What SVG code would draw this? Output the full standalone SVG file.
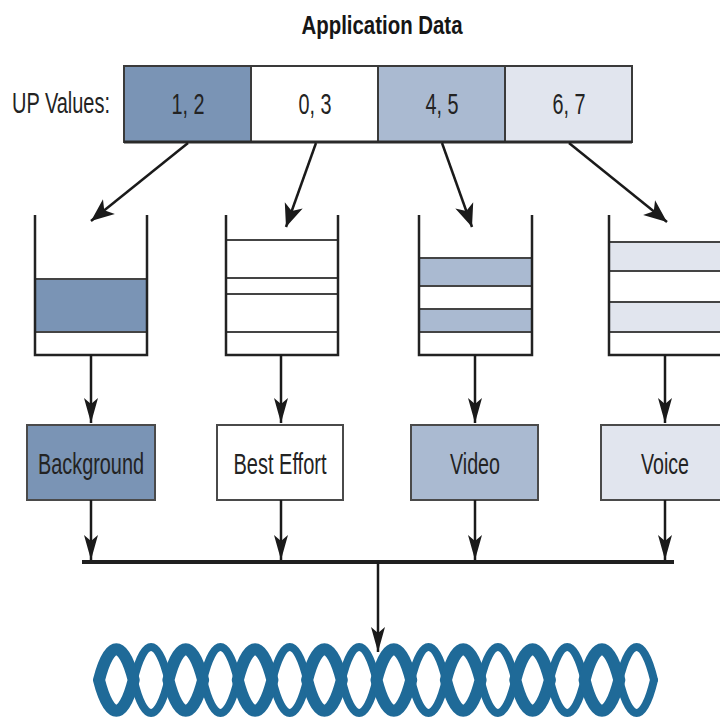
<svg xmlns="http://www.w3.org/2000/svg" width="720" height="719" viewBox="0 0 720 719">
  <style>
    .lbl { font-family: "Liberation Sans", Arial, sans-serif; font-size: 29.5px; fill: #232323; }
    .ttl { font-family: "Liberation Sans", Arial, sans-serif; font-size: 26px; font-weight: bold; fill: #161616; }
    .cell { stroke: #3a3a3a; stroke-width: 2; }
    .box { stroke: #4a4a4a; stroke-width: 2; }
    .wall { fill: none; stroke: #222; stroke-width: 2.5; }
    .slot { stroke: #444; stroke-width: 2; }
    .c1 { fill: #7a94b5; }
    .c2 { fill: #ffffff; }
    .c3 { fill: #aabad1; }
    .c4 { fill: #e1e5ee; }
    .arrow { fill: none; stroke: #1a1a1a; stroke-width: 2.5; }
    .wave { fill: none; stroke: #1f6a98; stroke-linecap: round; }
  </style>
  <defs>
    <marker id="headDiag" markerUnits="userSpaceOnUse" markerWidth="30" markerHeight="30" viewBox="-26 -13 30 26" refX="0" refY="0" orient="auto">
      <path d="M0,0 L-23,-9.5 L-17,0 L-23,9.5 Z" fill="#1a1a1a"/>
    </marker>
    <marker id="headDown" markerUnits="userSpaceOnUse" markerWidth="30" markerHeight="20" viewBox="-28 -10 30 20" refX="0" refY="0" orient="auto">
      <path d="M0,0 L-25,-7 L-19,0 L-25,7 Z" fill="#1a1a1a"/>
    </marker>
  </defs>

  <!-- heading -->
  <text class="ttl" x="382" y="34" text-anchor="middle" textLength="161" lengthAdjust="spacingAndGlyphs">Application Data</text>

  <!-- user priority values -->
  <g id="up-values">
    <text class="lbl" x="12" y="113" textLength="98" lengthAdjust="spacingAndGlyphs">UP Values:</text>
    <rect class="cell c1" x="124" y="66" width="127" height="76"/>
    <rect class="cell c2" x="251" y="66" width="127" height="76"/>
    <rect class="cell c3" x="378" y="66" width="127" height="76"/>
    <rect class="cell c4" x="505" y="66" width="127" height="76"/>
    <line x1="124" y1="142" x2="632" y2="142" stroke="#2a2a2a" stroke-width="3"/>
    <text class="lbl" x="188" y="114" text-anchor="middle" textLength="33" lengthAdjust="spacingAndGlyphs">1, 2</text>
    <text class="lbl" x="315" y="114" text-anchor="middle" textLength="33" lengthAdjust="spacingAndGlyphs">0, 3</text>
    <text class="lbl" x="442" y="114" text-anchor="middle" textLength="33" lengthAdjust="spacingAndGlyphs">4, 5</text>
    <text class="lbl" x="569" y="114" text-anchor="middle" textLength="33" lengthAdjust="spacingAndGlyphs">6, 7</text>
  </g>

  <!-- queues -->
  <g id="queue-background">
    <rect class="slot c1" x="35" y="279" width="112" height="53"/>
    <path class="wall" d="M35,215 V355 H147 V215"/>
  </g>
  <g id="queue-best-effort">
    <line class="slot" x1="226" y1="240" x2="338" y2="240"/>
    <line class="slot" x1="226" y1="278" x2="338" y2="278"/>
    <line class="slot" x1="226" y1="294" x2="338" y2="294"/>
    <line class="slot" x1="226" y1="332" x2="338" y2="332"/>
    <path class="wall" d="M226,215 V355 H338 V215"/>
  </g>
  <g id="queue-video">
    <rect class="slot c3" x="419" y="258" width="113" height="28"/>
    <rect class="slot c3" x="419" y="309" width="113" height="23"/>
    <path class="wall" d="M419,215 V355 H532 V215"/>
  </g>
  <g id="queue-voice">
    <rect class="slot c4" x="609" y="242" width="113" height="29"/>
    <rect class="slot c4" x="609" y="302" width="113" height="30"/>
    <path class="wall" d="M609,215 V355 H722 V215"/>
  </g>

  <!-- access categories -->
  <g id="ac-background">
    <rect class="box c1" x="27" y="425" width="128" height="75"/>
    <text class="lbl" x="91" y="474" text-anchor="middle" textLength="106" lengthAdjust="spacingAndGlyphs">Background</text>
  </g>
  <g id="ac-best-effort">
    <rect class="box c2" x="217" y="425" width="126" height="75"/>
    <text class="lbl" x="280" y="474" text-anchor="middle" textLength="93" lengthAdjust="spacingAndGlyphs">Best Effort</text>
  </g>
  <g id="ac-video">
    <rect class="box c3" x="411" y="425" width="127" height="75"/>
    <text class="lbl" x="475" y="474" text-anchor="middle" textLength="50" lengthAdjust="spacingAndGlyphs">Video</text>
  </g>
  <g id="ac-voice">
    <rect class="box c4" x="601" y="425" width="127" height="75"/>
    <text class="lbl" x="665" y="474" text-anchor="middle" textLength="48" lengthAdjust="spacingAndGlyphs">Voice</text>
  </g>

  <!-- transmission medium: twisted strands, front half-turns drawn heavier -->
  <g id="medium">
    <path class="wave" stroke-width="8" d="M133.7,680 C144.1,636 158,636 168.4,680 M133.7,680 C144.1,724 158,724 168.4,680
      M203.1,680 C213.5,636 227.4,636 237.8,680 M203.1,680 C213.5,724 227.4,724 237.8,680
      M272.4,680 C282.8,636 296.7,636 307.1,680 M272.4,680 C282.8,724 296.7,724 307.1,680
      M341.8,680 C352.2,636 366.1,636 376.5,680 M341.8,680 C352.2,724 366.1,724 376.5,680
      M411.2,680 C421.6,636 435.5,636 445.9,680 M411.2,680 C421.6,724 435.5,724 445.9,680
      M480.6,680 C491,636 504.9,636 515.3,680 M480.6,680 C491,724 504.9,724 515.3,680
      M549.9,680 C560.3,636 574.2,636 584.6,680 M549.9,680 C560.3,724 574.2,724 584.6,680
      M619.3,680 C629.7,636 643.6,636 654,680 M619.3,680 C629.7,724 643.6,724 654,680"/>
    <path class="wave" stroke-width="12" d="M99,680 C109.4,639 123.3,639 133.7,680 M99,680 C109.4,721 123.3,721 133.7,680
      M168.4,680 C178.8,639 192.7,639 203.1,680 M168.4,680 C178.8,721 192.7,721 203.1,680
      M237.8,680 C248.2,639 262,639 272.4,680 M237.8,680 C248.2,721 262,721 272.4,680
      M307.1,680 C317.5,639 331.4,639 341.8,680 M307.1,680 C317.5,721 331.4,721 341.8,680
      M376.5,680 C386.9,639 400.8,639 411.2,680 M376.5,680 C386.9,721 400.8,721 411.2,680
      M445.9,680 C456.3,639 470.2,639 480.6,680 M445.9,680 C456.3,721 470.2,721 480.6,680
      M515.3,680 C525.7,639 539.5,639 549.9,680 M515.3,680 C525.7,721 539.5,721 549.9,680
      M584.6,680 C595,639 608.9,639 619.3,680 M584.6,680 C595,721 608.9,721 619.3,680"/>
  </g>

  <!-- connectors -->
  <g id="connectors">
    <line class="arrow" x1="188" y1="143" x2="91" y2="221" marker-end="url(#headDiag)"/>
    <line class="arrow" x1="316" y1="143" x2="286" y2="227" marker-end="url(#headDiag)"/>
    <line class="arrow" x1="442" y1="143" x2="472" y2="227" marker-end="url(#headDiag)"/>
    <line class="arrow" x1="569" y1="143" x2="667" y2="222" marker-end="url(#headDiag)"/>

    <line class="arrow" stroke-width="2" x1="91" y1="355" x2="91" y2="423" marker-end="url(#headDown)"/>
    <line class="arrow" stroke-width="2" x1="281" y1="355" x2="281" y2="423" marker-end="url(#headDown)"/>
    <line class="arrow" stroke-width="2" x1="475" y1="355" x2="475" y2="423" marker-end="url(#headDown)"/>
    <line class="arrow" stroke-width="2" x1="665" y1="355" x2="665" y2="423" marker-end="url(#headDown)"/>

    <line class="arrow" stroke-width="2" x1="91" y1="500" x2="91" y2="560" marker-end="url(#headDown)"/>
    <line class="arrow" stroke-width="2" x1="281" y1="500" x2="281" y2="560" marker-end="url(#headDown)"/>
    <line class="arrow" stroke-width="2" x1="475" y1="500" x2="475" y2="560" marker-end="url(#headDown)"/>
    <line class="arrow" stroke-width="2" x1="665" y1="500" x2="665" y2="560" marker-end="url(#headDown)"/>

    <line x1="82" y1="562" x2="674" y2="562" stroke="#1f1f1f" stroke-width="4"/>
    <line class="arrow" stroke-width="2" x1="378" y1="562" x2="378" y2="652" marker-end="url(#headDown)"/>
  </g>
</svg>
